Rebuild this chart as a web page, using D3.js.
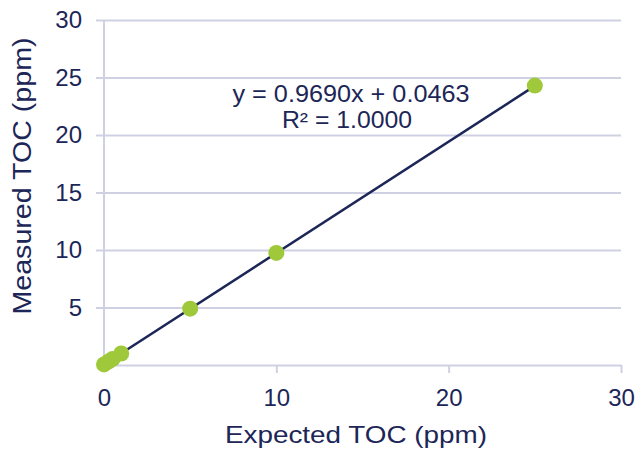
<!DOCTYPE html>
<html>
<head>
<meta charset="utf-8">
<script src="https://cdn.jsdelivr.net/npm/d3@7"></script>
<style>
  body { margin: 0; background: #fff; }
  text { font-family: 'Liberation Sans', Arial, sans-serif; fill: #1c2657; }
</style>
</head>
<body>
<script>
// data
var expected = [0, 0.25, 0.5, 1, 5, 10, 25]
var measured = [0.05, 0.29, 0.53, 1.0, 4.9, 9.75, 24.3]
var xTicks = [0, 10, 20, 30]
var yTicks = [5, 10, 15, 20, 25, 30]
var slope = 0.9690
var intercept = 0.0463
var fitRange = [0, 25]

var width = 638
var height = 452
var margin = { left: 104, right: 17, top: 20, bottom: 87 }

var navy = '#1c2657'
var grid = '#cfd1e3'
var green = '#9fc93a'

var svg = d3.select('body').append('svg')
    .attr('width', width)
    .attr('height', height)

var xscale = d3.scaleLinear().domain([0, 30]).range([margin.left, width - margin.right])
var yscale = d3.scaleLinear().domain([0, 30]).range([height - margin.bottom, margin.top])

// horizontal gridlines + y labels
var yAxis = d3.axisLeft(yscale)
    .tickValues(yTicks)
    .tickSize(-(width - margin.right - margin.left))
    .tickPadding(22)
    .tickFormat(d3.format('d'))

var gy = svg.append('g')
    .attr('transform', 'translate(' + margin.left + ',0)')
    .call(yAxis)
gy.select('.domain').remove()
gy.selectAll('.tick line').attr('stroke', grid).attr('stroke-width', 2).attr('x1', -8)
gy.selectAll('.tick text').style('font-size', '24px').attr('fill', navy)

// y axis line
svg.append('line')
    .attr('x1', margin.left).attr('x2', margin.left)
    .attr('y1', yscale(30)).attr('y2', yscale(0) + 7)
    .attr('stroke', grid).attr('stroke-width', 2)

// x axis
var xAxis = d3.axisBottom(xscale)
    .tickValues(xTicks)
    .tickSize(8)
    .tickSizeOuter(0)
    .tickPadding(16)
    .tickFormat(d3.format('d'))

var gx = svg.append('g')
    .attr('transform', 'translate(0,' + yscale(0) + ')')
    .call(xAxis)
gx.select('.domain').attr('stroke', grid).attr('stroke-width', 2)
gx.selectAll('.tick line').attr('stroke', grid).attr('stroke-width', 2)
gx.selectAll('.tick').filter(d => d == 0).select('line').remove()
gx.selectAll('.tick text').style('font-size', '24px').attr('fill', navy)

// trend line
svg.append('line')
    .attr('x1', xscale(fitRange[0])).attr('y1', yscale(slope * fitRange[0] + intercept))
    .attr('x2', xscale(fitRange[1])).attr('y2', yscale(slope * fitRange[1] + intercept))
    .attr('stroke', navy).attr('stroke-width', 2.5)

// points
svg.selectAll('circle.pt')
    .data(expected)
    .enter().append('circle')
        .attr('class', 'pt')
        .attr('cx', d => xscale(d))
        .attr('cy', (d, i) => yscale(measured[i]))
        .attr('r', 8)
        .attr('fill', green)

// equation
svg.append('text')
    .attr('x', 351).attr('y', 102)
    .attr('text-anchor', 'middle')
    .attr('textLength', 237)
    .attr('lengthAdjust', 'spacingAndGlyphs')
    .style('font-size', '23px')
    .text('y = ' + slope.toFixed(4) + 'x + ' + intercept.toFixed(4))
svg.append('text')
    .attr('x', 347).attr('y', 128)
    .attr('text-anchor', 'middle')
    .attr('textLength', 130)
    .attr('lengthAdjust', 'spacingAndGlyphs')
    .style('font-size', '23px')
    .text('R² = 1.0000')

// axis titles
svg.append('text')
    .attr('x', 356)
    .attr('y', 443)
    .attr('text-anchor', 'middle')
    .attr('textLength', 262)
    .attr('lengthAdjust', 'spacingAndGlyphs')
    .style('font-size', '24px')
    .text('Expected TOC (ppm)')

svg.append('text')
    .attr('transform', 'translate(31,176) rotate(-90)')
    .attr('text-anchor', 'middle')
    .attr('textLength', 277)
    .attr('lengthAdjust', 'spacingAndGlyphs')
    .style('font-size', '25px')
    .text('Measured TOC (ppm)')
</script>
</body>
</html>
